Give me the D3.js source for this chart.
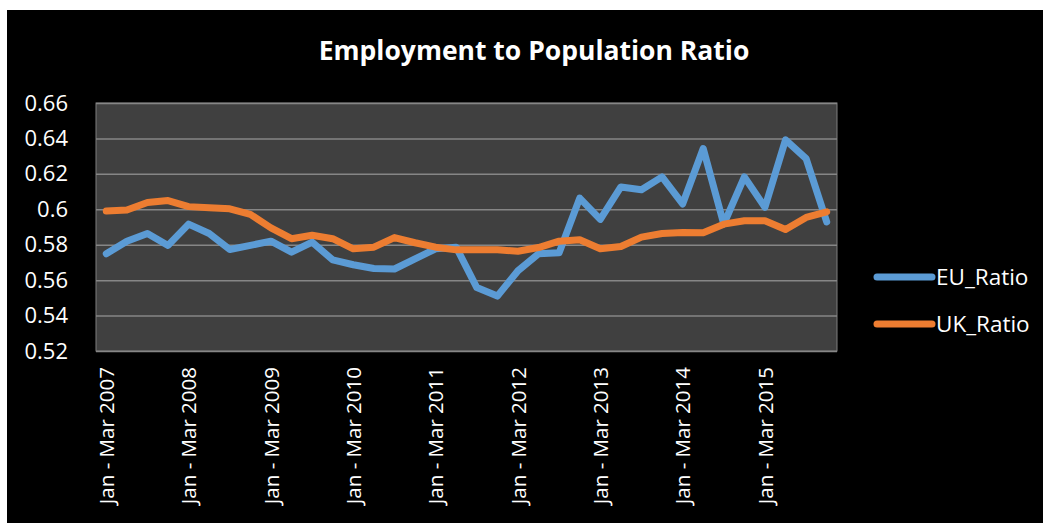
<!DOCTYPE html>
<html>
<head>
<meta charset="utf-8">
<script src="https://cdn.jsdelivr.net/npm/d3@7"></script>
<style>
  html, body { margin: 0; padding: 0; background: #fff; }
  svg { display: block; }
  text { font-family: "Open Sans", Lato, sans-serif; fill: #fff; }
</style>
</head>
<body>
<svg id="chart"></svg>
<script>
// quarterly periods, Jan - Mar 2007 .. Oct - Dec 2015
const years = [2007, 2008, 2009, 2010, 2011, 2012, 2013, 2014, 2015];
const quarters = ["Jan - Mar", "Apr - Jun", "Jul - Sep", "Oct - Dec"];
const periods = years.flatMap(y => quarters.map(q => `${q} ${y}`));

const euRatio = [
  0.5749, 0.5819, 0.5863, 0.5796, 0.5916, 0.5863, 0.5773, 0.5796, 0.5820,
  0.5758, 0.5815, 0.5714, 0.5687, 0.5666, 0.5663, 0.5720, 0.5777, 0.5786,
  0.5558, 0.5510, 0.5653, 0.5749, 0.5754, 0.6063, 0.5943, 0.6126, 0.6110,
  0.6183, 0.6030, 0.6343, 0.5916, 0.6183, 0.6011, 0.6392, 0.6286, 0.5929
];
const ukRatio = [
  0.5990, 0.5996, 0.6038, 0.6049, 0.6015, 0.6009, 0.6003, 0.5971, 0.5895,
  0.5834, 0.5853, 0.5834, 0.5777, 0.5786, 0.5840, 0.5811, 0.5786, 0.5771,
  0.5771, 0.5771, 0.5763, 0.5784, 0.5820, 0.5828, 0.5777, 0.5790, 0.5843,
  0.5863, 0.5869, 0.5867, 0.5916, 0.5935, 0.5935, 0.5886, 0.5954, 0.5986
];
const yTicks = [0.52, 0.54, 0.56, 0.58, 0.6, 0.62, 0.64, 0.66];

const series = [
  { name: "EU_Ratio", values: euRatio, color: "#5b9bd5" },
  { name: "UK_Ratio", values: ukRatio, color: "#ed7d31" }
];

const W = 1047, H = 523;
const margin = { top: 103, left: 96 };
const width = 741, height = 248;

const svg = d3.select("#chart").attr("width", W).attr("height", H);

// black chart panel
svg.append("rect")
  .attr("x", 7).attr("y", 10)
  .attr("width", W - 11).attr("height", H - 10)
  .attr("fill", "#000");

svg.append("text")
  .attr("x", 534).attr("y", 60)
  .attr("text-anchor", "middle")
  .attr("font-size", 26.5).attr("font-weight", "bold")
  .text("Employment to Population Ratio");

const g = svg.append("g")
  .attr("transform", `translate(${margin.left},${margin.top})`);

const x = d3.scalePoint()
  .domain(periods)
  .range([0, width])
  .padding(0.5);

const y = d3.scaleLinear()
  .domain([0.52, 0.66])
  .range([height, 0]);

// plot area
g.append("rect")
  .attr("width", width).attr("height", height)
  .attr("fill", "#404040")
  .attr("stroke", "#7f7f7f").attr("stroke-width", 1);

// gridlines
g.append("g")
  .call(d3.axisLeft(y).tickValues(yTicks).tickSize(-width).tickFormat(""))
  .call(a => a.select(".domain").remove())
  .call(a => a.selectAll("line").attr("stroke", "#868686").attr("stroke-width", 1.5));

// y labels
g.append("g")
  .attr("transform", "translate(-25,0)")
  .call(d3.axisLeft(y).tickValues(yTicks).tickSize(0).tickFormat(d3.format("")))
  .call(a => a.select(".domain").remove())
  .call(a => a.selectAll("text")
    .attr("fill", "#fff").attr("font-size", 22)
    .attr("font-family", "'Open Sans', Lato, sans-serif"));

// x labels, every fourth quarter
g.append("g")
  .attr("transform", `translate(0,${height})`)
  .call(d3.axisBottom(x).tickValues(periods.filter((d, i) => i % 4 === 0)).tickSize(0))
  .call(a => a.select(".domain").remove())
  .call(a => a.selectAll("text")
    .attr("fill", "#fff").attr("font-size", 20.5)
    .attr("font-family", "'Open Sans', Lato, sans-serif")
    .attr("text-anchor", "end")
    .attr("dy", "0.35em")
    .attr("transform", "translate(0,16) rotate(-90)")
    .attr("x", 0).attr("y", 0));

const line = d3.line()
  .x((d, i) => x(periods[i]))
  .y(d => y(d));

g.selectAll(".series")
  .data(series)
  .join("path")
  .attr("class", "series")
  .attr("fill", "none")
  .attr("stroke", d => d.color)
  .attr("stroke-width", 7)
  .attr("stroke-linejoin", "round")
  .attr("stroke-linecap", "round")
  .attr("d", d => line(d.values));

// legend
const legend = svg.append("g").attr("transform", "translate(877,277)");
const item = legend.selectAll("g")
  .data(series)
  .join("g")
  .attr("transform", (d, i) => `translate(0,${i * 47})`);
item.append("line")
  .attr("x1", 0).attr("x2", 55)
  .attr("stroke", d => d.color)
  .attr("stroke-width", 7)
  .attr("stroke-linecap", "round");
item.append("text")
  .attr("x", 59).attr("dy", "0.35em")
  .attr("font-size", 22.5)
  .text(d => d.name);
</script>
</body>
</html>
